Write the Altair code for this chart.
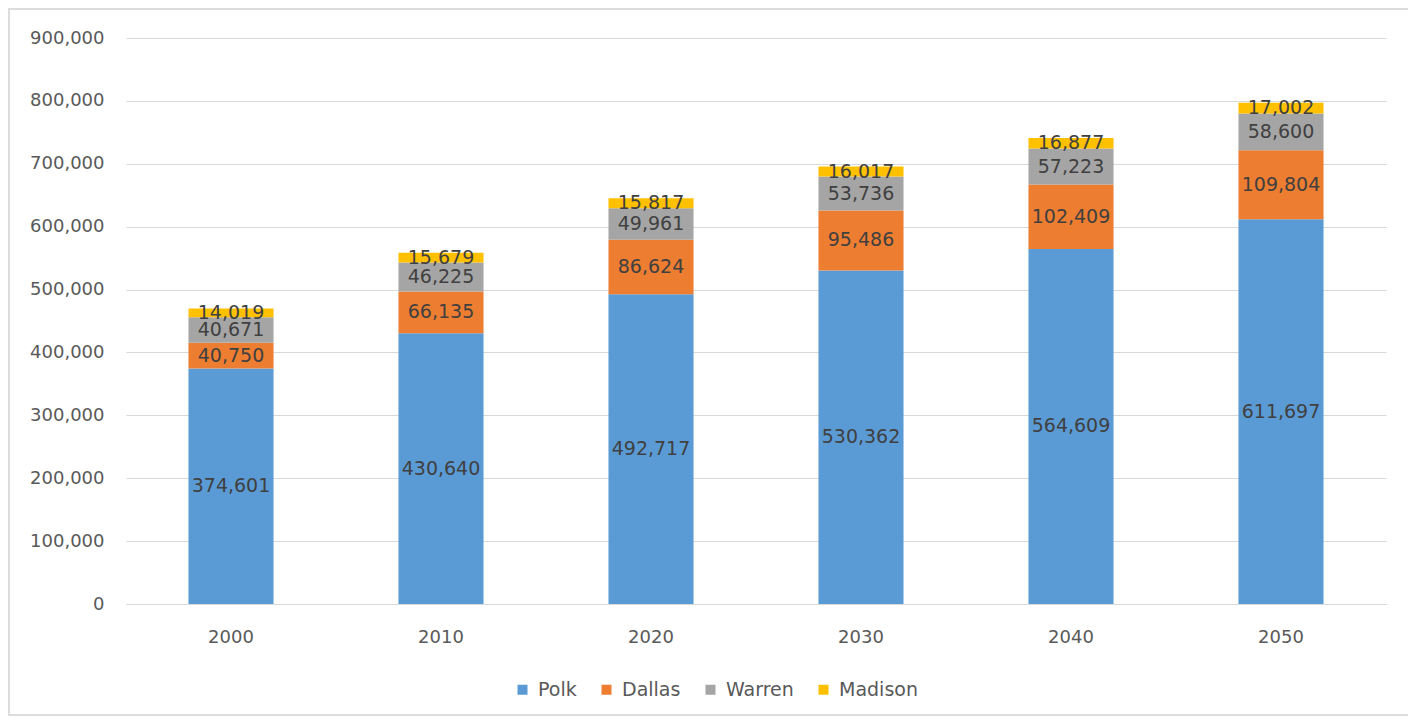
import altair as alt
import pandas as pd

years = ["2000", "2010", "2020", "2030", "2040", "2050"]
counties = ["Polk", "Dallas", "Warren", "Madison"]
polk = [374601, 430640, 492717, 530362, 564609, 611697]
dallas = [40750, 66135, 86624, 95486, 102409, 109804]
warren = [40671, 46225, 49961, 53736, 57223, 58600]
madison = [14019, 15679, 15817, 16017, 16877, 17002]
colors = ["#5B9BD5", "#ED7D31", "#A5A5A5", "#FFC000"]

series = {"Polk": polk, "Dallas": dallas, "Warren": warren, "Madison": madison}
rows = []
for ci, c in enumerate(counties):
    for yi, y in enumerate(years):
        rows.append({"year": y, "county": c, "order": ci, "value": series[c][yi]})
df = pd.DataFrame(rows)

FONT = "DejaVu Sans"

base = alt.Chart(df).transform_stack(
    stack="value", groupby=["year"], as_=["y0", "y1"],
    sort=[alt.SortField("order", order="ascending")]
).transform_calculate(mid="(datum.y0 + datum.y1) / 2")

x = alt.X("year:N", title=None, sort=years,
          scale=alt.Scale(paddingInner=0.595, paddingOuter=0.2975),
          axis=alt.Axis(labelAngle=0, labelFontSize=18, labelColor="#595959",
                        labelFont=FONT, labelPadding=24, ticks=False, grid=False,
                        domainColor="#d9d9d9", domainWidth=1.2))

bars = base.mark_bar().encode(
    x=x,
    y=alt.Y("y0:Q", title=None,
            scale=alt.Scale(domain=[0, 900000], nice=False),
            axis=alt.Axis(values=list(range(0, 900001, 100000)), format=",d",
                          labelFontSize=18, labelColor="#595959", labelFont=FONT,
                          labelPadding=22, ticks=False, domain=False,
                          gridColor="#d9d9d9", gridWidth=1.2)),
    y2="y1:Q",
    color=alt.Color("county:N", sort=counties,
                    scale=alt.Scale(domain=counties, range=colors),
                    legend=alt.Legend(title=None, orient="none", direction="horizontal",
                                      legendX=387, legendY=642,
                                      symbolType="square", symbolSize=100,
                                      labelFontSize=19, labelColor="#595959",
                                      labelFont=FONT, columnPadding=20, labelOffset=6,
                                      symbolStrokeWidth=0)),
)

labels = base.mark_text(font=FONT, fontSize=19, color="#404040", baseline="middle").encode(
    x=alt.X("year:N", sort=years),
    y=alt.Y("mid:Q"),
    text=alt.Text("value:Q", format=",d"),
)

frame = alt.Chart(pd.DataFrame({"f": [0]})).mark_rect(
    fill=None, stroke="#dcdcdc", strokeWidth=2, clip=False
).encode(x=alt.value(-117), x2=alt.value(1284), y=alt.value(-29), y2=alt.value(677))

chart = alt.layer(frame, bars, labels).properties(
    width=1260, height=566,
    autosize=alt.AutoSizeParams(type="none"),
    padding={"left": 118, "top": 30, "right": 22, "bottom": 113},
).configure(background="white").configure_view(stroke=None)

chart.save("out.html", embed_options={"renderer": "svg", "actions": False})
